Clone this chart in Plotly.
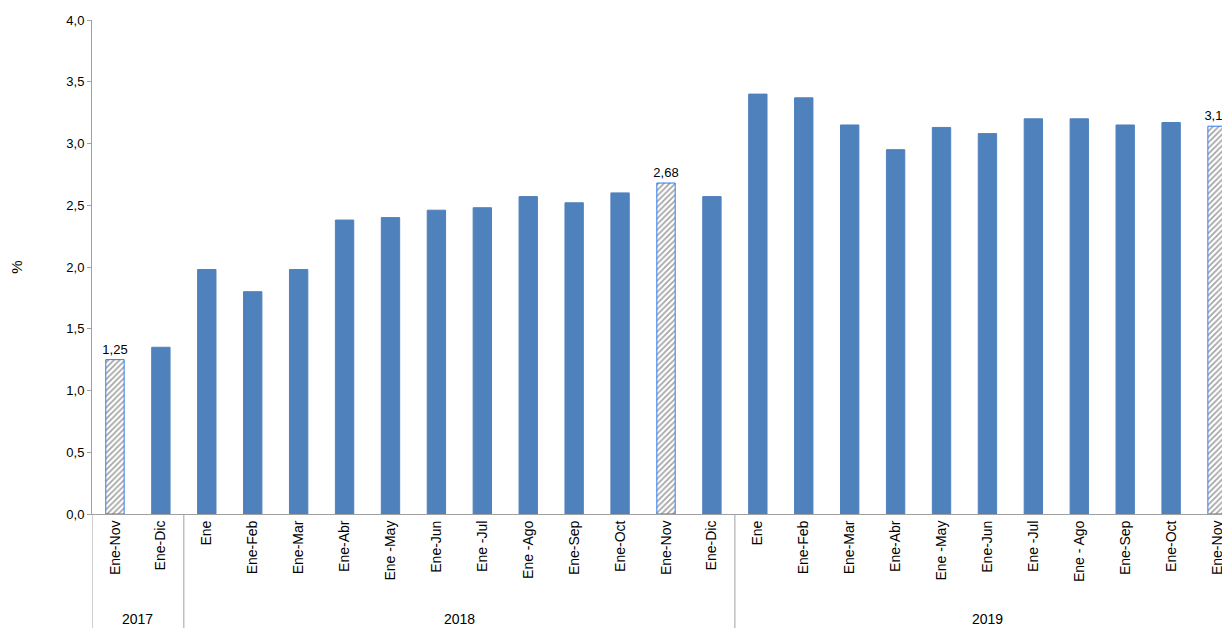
import plotly.graph_objects as go

categories = ["Ene-Nov", "Ene-Dic",
              "Ene", "Ene-Feb", "Ene-Mar", "Ene-Abr", "Ene -May", "Ene-Jun", "Ene -Jul",
              "Ene -Ago", "Ene-Sep", "Ene-Oct", "Ene-Nov", "Ene-Dic",
              "Ene", "Ene-Feb", "Ene-Mar", "Ene-Abr", "Ene -May", "Ene-Jun", "Ene -Jul",
              "Ene - Ago", "Ene-Sep", "Ene-Oct", "Ene-Nov"]
values = [1.25, 1.35,
          1.98, 1.80, 1.98, 2.38, 2.40, 2.46, 2.48, 2.57, 2.52, 2.60, 2.68, 2.57,
          3.40, 3.37, 3.15, 2.95, 3.13, 3.08, 3.20, 3.20, 3.15, 3.17, 3.14]
hatched = [0, 12, 24]
years = ["2017", "2018", "2019"]
year_counts = [2, 12, 11]

blue = "#4f81bd"
hatch = "#2f7bf0"
idx = list(range(len(values)))
fig = go.Figure(go.Bar(
    x=idx, y=values, width=0.4,
    marker=dict(
        color=["white" if i in hatched else blue for i in idx],
        line=dict(color=[hatch if i in hatched else blue for i in idx], width=1),
        pattern=dict(shape=["/" if i in hatched else "" for i in idx],
                     fgcolor=hatch, bgcolor="white", size=4, solidity=0.4,
                     fillmode="overlay"),
    ),
    text=[f"{v:.2f}".replace(".", ",") if i in hatched else "" for i, v in enumerate(values)],
    textposition="outside", textfont=dict(size=13, color="black"),
    constraintext="none", cliponaxis=False,
))

# year group separators and labels
shapes, annotations = [], []
start = 0
for yr, n in zip(years, year_counts):
    shapes.append(dict(type="line", xref="x", yref="paper", x0=start - 0.5, x1=start - 0.5,
                       y0=0, y1=-0.235, line=dict(color="#a0a0a0", width=1)))
    annotations.append(dict(x=start + (n - 1) / 2, y=-0.212, xref="x", yref="paper",
                            text=yr, showarrow=False, yanchor="middle",
                            font=dict(size=14, color="black")))
    start += n

# page body adds an 8px offset; the plot runs slightly past the right edge as in the original
fig.update_layout(
    width=1232, height=620, plot_bgcolor="white", paper_bgcolor="white",
    margin=dict(l=84, r=0, t=12, b=114), showlegend=False,
    font=dict(family="Liberation Sans, Arial", size=13, color="black"),
    shapes=shapes, annotations=annotations,
    xaxis=dict(tickmode="array", tickvals=idx, ticktext=categories, tickangle=-90,
               range=[-0.5, len(values) - 0.5], showline=True, linecolor="#a0a0a0",
               showgrid=False, ticks="", automargin=False, tickfont=dict(size=14)),
    yaxis=dict(range=[0, 4], dtick=0.5, tickformat=".1f",
               showline=True, linecolor="#a0a0a0", showgrid=False, ticks="outside",
               ticklen=4, tickcolor="#a0a0a0", zeroline=False, automargin=False,
               title=dict(text="%", standoff=50, font=dict(size=15))),
    separators=",.",
)
fig.write_html("out.html")
